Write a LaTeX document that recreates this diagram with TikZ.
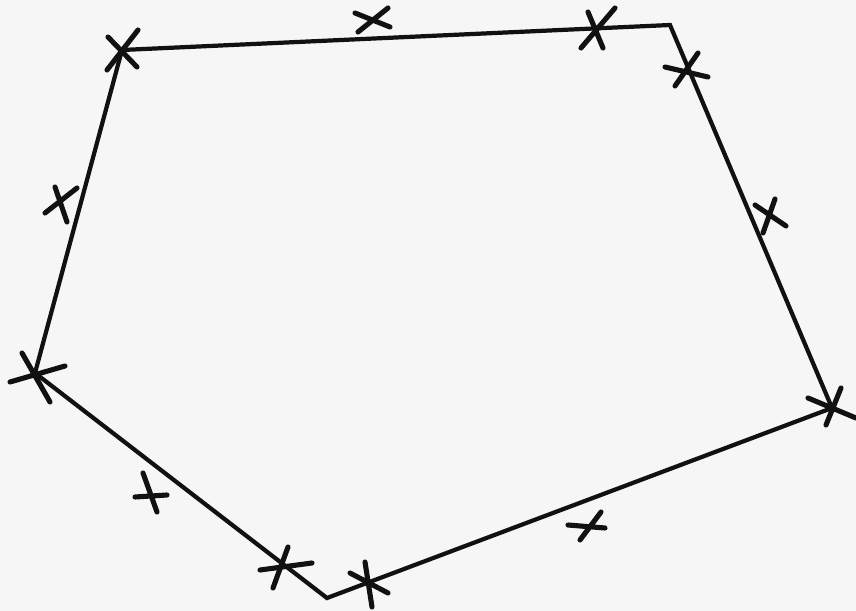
\documentclass[tikz,border=0pt]{standalone}
\usepackage{tikz}
\usetikzlibrary{backgrounds}
\usepackage{xcolor}
\definecolor{inkblack}{HTML}{111111}
\definecolor{paperwhite}{HTML}{F6F6F6}
\tikzset{
  side/.style={draw=inkblack,line width=2.4pt,line join=miter},
  crossstroke/.style={draw=inkblack,line width=2.9pt,line cap=round}
}

\begin{document}
\begin{tikzpicture}[x=0.02cm,y=-0.02cm]
  \fill[paperwhite] (0,0) rectangle (856,611);
  \useasboundingbox (0,0) rectangle (856,611);
  \coordinate (vA) at (122,50);
  \coordinate (vB) at (670,25);
  \coordinate (vC) at (832,408);
  \coordinate (vD) at (327,598);
  \coordinate (vE) at (35,373);
  \draw[side] (vA) -- (vB) -- (vC) -- (vD) -- (vE) -- cycle;
  \coordinate (xA) at (122,50);
  \coordinate (xtop) at (373,20);
  \coordinate (xleft) at (62,205);
  \coordinate (xnearB) at (598,29);
  \coordinate (xbelowB) at (686,70);
  \coordinate (xright) at (770,216);
  \coordinate (xE) at (35,373);
  \coordinate (xlowleft) at (152,493);
  \coordinate (xnearD) at (285,567);
  \coordinate (xpastD) at (368,585);
  \coordinate (xbottom) at (588,523);
  \coordinate (xC) at (833,408);
  \draw[crossstroke] (xA) ++(-15,20) -- ++(31,-40) (xA) ++(-14,-13) -- ++(29,30);
  \draw[crossstroke] (xtop) ++(-15,12) -- ++(30,-24) (xtop) ++(-18,-7) -- ++(35,14);
  \draw[crossstroke] (xleft) ++(-17,8) -- ++(32,-25) (xleft) ++(-7,-18) -- ++(12,35);
  \draw[crossstroke] (xnearB) ++(-17,19) -- ++(34,-40) (xnearB) ++(-10,-17) -- ++(15,36);
  \draw[crossstroke] (xbelowB) ++(-21,-3) -- ++(43,10) (xbelowB) ++(-11,16) -- ++(23,-33);
  \draw[crossstroke] (xright) ++(-15,-11) -- ++(31,21) (xright) ++(-7,17) -- ++(12,-34);
  \draw[crossstroke] (xE) ++(-25,9) -- ++(55,-16) (xE) ++(-13,-20) -- ++(28,49);
  \draw[crossstroke] (xlowleft) ++(-17,4) -- ++(32,-2) (xlowleft) ++(-9,-20) -- ++(14,39);
  \draw[crossstroke] (xnearD) ++(-25,3) -- ++(52,-7) (xnearD) ++(-12,21) -- ++(15,-41);
  \draw[crossstroke] (xpastD) ++(-18,-12) -- ++(38,20) (xpastD) ++(-3,-23) -- ++(7,45);
  \draw[crossstroke] (xbottom) ++(-20,2) -- ++(37,3) (xbottom) ++(-8,17) -- ++(21,-28);
  \draw[crossstroke] (xC) ++(-25,-10) -- ++(48,20) (xC) ++(-7,17) -- ++(15,-37);
\end{tikzpicture}
\end{document}
